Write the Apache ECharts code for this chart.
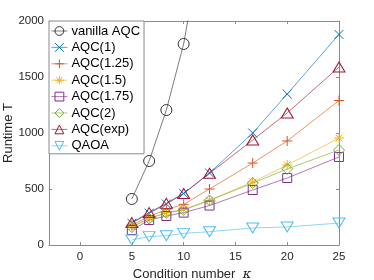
<!DOCTYPE html>
<html><head><meta charset="utf-8">
<script src="https://cdn.jsdelivr.net/npm/echarts@6/dist/echarts.min.js"></script>
<style>html,body{margin:0;padding:0;background:#fff}#c{width:374px;height:280px}</style>
</head><body><div id="c"></div>
<script>
var kappa = [5, 6.67, 8.33, 10, 12.5, 16.67, 20, 25];
var vanillaAQC = [411, 750, 1205, 1795, 3100];
var aqc1 = [195, 284, 366, 460, 643, 1000, 1348, 1880];
var aqc125 = [179, 253, 318, 363, 500, 732, 929, 1290];
var aqc15 = [164, 238, 289, 318, 400, 562, 714, 955];
var aqc175 = [134, 223, 259, 289, 352, 491, 598, 786];
var aqc2 = [160, 236, 287, 312, 398, 553, 679, 848];
var aqcExp = [200, 289, 372, 460, 640, 937, 1179, 1589];
var qaoa = [45, 75, 83, 104, 119, 152, 161, 196];
var xTicks = [0, 5, 10, 15, 20, 25];
var yTicks = [0, 500, 1000, 1500, 2000];
var seriesNames = ['vanilla AQC','AQC(1)','AQC(1.25)','AQC(1.5)','AQC(1.75)','AQC(2)','AQC(exp)','QAOA'];

function pts(v){ return v.map(function(y,i){ return [kappa[i], y]; }); }

var SYM = {
  circle: 'circle',
  x: 'path://M0,0L10,10M10,0L0,10',
  plus: 'path://M5,0L5,10M0,5L10,5',
  star: 'path://M5,0L5,10M0,5L10,5M1.5,1.5L8.5,8.5M8.5,1.5L1.5,8.5',
  square: 'path://M0,0L10,0L10,10L0,10Z',
  diamond: 'path://M5,0L10,5L5,10L0,5Z',
  tri: 'path://M5,0L10,8.66L0,8.66Z',
  vtri: 'path://M0,0L10,0L5,8.66Z'
};
function mk(name, data, color, sym, size){
  return {
    name: name, type: 'line', data: pts(data), symbol: sym, symbolSize: size,
    clip: true,
    lineStyle: {color: color, width: 0.8, opacity: 0.8},
    itemStyle: {color: 'none', borderColor: color, borderWidth: 1},
    emphasis: {disabled: true}, animation: false
  };
}
var series = [
  mk(seriesNames[0], vanillaAQC, '#333333', SYM.circle, 11),
  mk(seriesNames[1], aqc1, '#0072BD', SYM.x, 9),
  mk(seriesNames[2], aqc125, '#D95319', SYM.plus, 10),
  mk(seriesNames[3], aqc15, '#EDB120', SYM.star, 10),
  mk(seriesNames[4], aqc175, '#7E2F8E', SYM.square, 9),
  mk(seriesNames[5], aqc2, '#77AC30', SYM.diamond, 11),
  mk(seriesNames[6], aqcExp, '#A2142F', SYM.tri, [12,10]),
  mk(seriesNames[7], qaoa, '#4DBEEE', SYM.vtri, [12,10])
];
var axisCol = '#8a8a8a';
var font = 'Liberation Sans, Arial, Helvetica, sans-serif';
var plain = function(v){ return String(v); };
var chart = echarts.init(document.getElementById('c'), null, {renderer: 'canvas'});
chart.setOption({
  animation: false,
  grid: {left: 49, right: 35, top: 21, bottom: 35, containLabel: false, outerBoundsMode: 'none'},
  xAxis: [{
    type: 'value', min: -3, max: 25, position: 'bottom',
    name: 'Condition number  {i|κ}', nameLocation: 'middle', nameGap: 19,
    nameTextStyle: {color: '#262626', fontSize: 13, fontFamily: font, padding: [0, 4, 0, 0],
      rich: {i: {fontStyle: 'italic', fontSize: 13, fontFamily: 'DejaVu Serif', color: '#262626'}}},
    axisLine: {show: true, onZero: false, lineStyle: {color: axisCol, width: 1}},
    axisTick: {show: true, inside: true, length: 3, customValues: xTicks, lineStyle: {color: axisCol}},
    axisLabel: {customValues: xTicks, formatter: plain, color: '#262626', fontSize: 11.5, fontFamily: font, margin: 6},
    splitLine: {show: false}
  }, {
    type: 'value', min: -3, max: 25, position: 'top',
    axisLine: {show: true, onZero: false, lineStyle: {color: axisCol, width: 1}},
    axisTick: {show: true, inside: true, length: 3, customValues: xTicks, lineStyle: {color: axisCol}},
    axisLabel: {show: false}, splitLine: {show: false}
  }],
  yAxis: [{
    type: 'value', min: 0, max: 2000, interval: 500, position: 'left',
    name: 'Runtime T', nameLocation: 'middle', nameGap: 34, nameMoveOverlap: false,
    nameTextStyle: {color: '#262626', fontSize: 13, fontFamily: font},
    axisLine: {show: true, onZero: false, lineStyle: {color: axisCol, width: 1}},
    axisTick: {show: true, inside: true, length: 3, customValues: yTicks, lineStyle: {color: axisCol}},
    axisLabel: {customValues: yTicks, formatter: plain, color: '#262626', fontSize: 11.5, fontFamily: font, margin: 5},
    splitLine: {show: false}
  }, {
    type: 'value', min: 0, max: 2000, interval: 500, position: 'right',
    axisLine: {show: true, onZero: false, lineStyle: {color: axisCol, width: 1}},
    axisTick: {show: true, inside: true, length: 3, lineStyle: {color: axisCol}},
    axisLabel: {show: false}, splitLine: {show: false}
  }],
  legend: {
    data: seriesNames, orient: 'vertical', left: 49, top: 21,
    backgroundColor: '#ffffff', borderColor: axisCol, borderWidth: 1,
    padding: [3, 4, 1, 2], itemGap: 2.4, itemWidth: 16, itemHeight: 11,
    lineStyle: {width: 0.8}, itemStyle: {borderWidth: 1},
    textStyle: {color: '#000', fontSize: 13, lineHeight: 14, fontFamily: font, padding: [0,0,0,-1]},
    selectedMode: false
  },
  series: series
});
</script></body></html>
